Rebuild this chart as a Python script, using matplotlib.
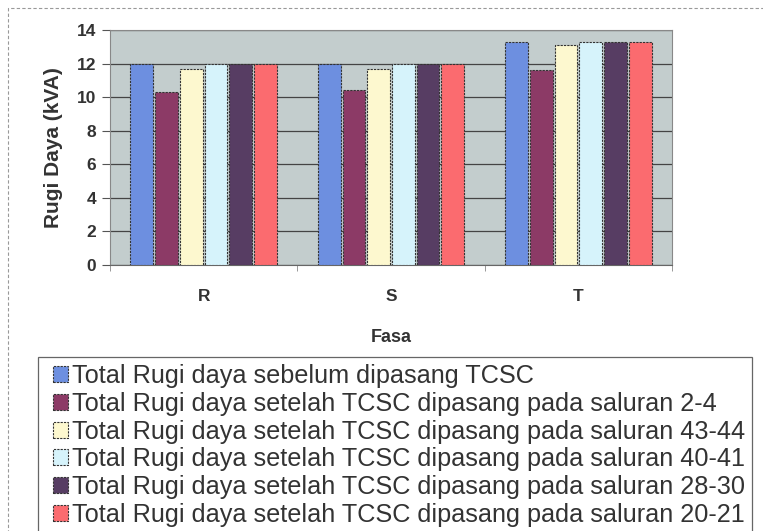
import matplotlib
matplotlib.use("Agg")
import matplotlib.pyplot as plt
import numpy as np
from matplotlib.patches import Rectangle

plt.rcParams['font.family'] = ['Liberation Sans', 'DejaVu Sans']

categories = ["R", "S", "T"]
series_labels = [
    "Total Rugi daya sebelum dipasang TCSC",
    "Total Rugi daya setelah TCSC dipasang pada saluran 2-4",
    "Total Rugi daya setelah TCSC dipasang pada saluran 43-44",
    "Total Rugi daya setelah TCSC dipasang pada saluran 40-41",
    "Total Rugi daya setelah TCSC dipasang pada saluran 28-30",
    "Total Rugi daya setelah TCSC dipasang pada saluran 20-21",
]
sebelum = [11.95, 11.95, 13.3]
sal_2_4 = [10.3, 10.45, 11.6]
sal_43_44 = [11.7, 11.7, 13.1]
sal_40_41 = [11.95, 11.95, 13.3]
sal_28_30 = [11.95, 11.95, 13.3]
sal_20_21 = [11.95, 11.95, 13.3]
series = [sebelum, sal_2_4, sal_43_44, sal_40_41, sal_28_30, sal_20_21]
colors = ["#6d8fe0", "#8c3a66", "#fdf8cf", "#d6f3fb", "#573d63", "#fb6b6f"]

W, H = 763, 531
fig = plt.figure(figsize=(W/100, H/100), dpi=100)
ax = fig.add_axes([110/W, 1-265/H, (672-110)/W, (265-30)/H])
ax.set_facecolor("#c3cdcd")

x = np.arange(len(categories))
n = len(series)
bw = 0.132
for i, (vals, c, lab) in enumerate(zip(series, colors, series_labels)):
    ax.bar(x + (i - (n-1)/2) * bw, vals, bw*0.92, color=c, edgecolor="#333333",
           linewidth=0.8, linestyle=(0, (2, 1)), label=lab, zorder=3)

ax.set_xlim(-0.5, 2.5)
ax.set_ylim(0, 14)
ax.set_yticks(range(0, 15, 2))
ax.yaxis.grid(True, color="#444444", linewidth=0.9, zorder=1)
ax.set_axisbelow(True)
ax.set_xticks(x)
ax.set_xticklabels(categories)
ax.set_xticks([-0.5, 0.5, 1.5, 2.5], minor=True)
ax.tick_params(axis='x', which='major', length=0, pad=17, labelsize=12.5)
ax.tick_params(axis='x', which='minor', length=4, color="#888888")
ax.tick_params(axis='y', length=6, labelsize=12.5, color="#555555", pad=4)
for lab in ax.get_yticklabels() + ax.get_xticklabels():
    lab.set_fontweight('bold')
    lab.set_color("#333333")
for s in ["top", "right", "left"]:
    ax.spines[s].set_color("#888888")
ax.spines["bottom"].set_color("#666666")
ax.set_ylabel("Rugi Daya (kVA)", fontsize=15, fontweight='bold', color="#333333", labelpad=10)
ax.set_xlabel("Fasa", fontsize=13, fontweight='bold', color="#333333", labelpad=18)

# legend frame drawn separately
fig.patches.append(Rectangle((38/W, -0.02), (752-38)/W, 1.02-357/H, transform=fig.transFigure,
                             fill=False, edgecolor="#666666", linewidth=0.9))
leg = fig.legend(loc="upper left", bbox_to_anchor=(53/W, 1-364/H), ncol=1,
                 fontsize=18.2, frameon=False,
                 handlelength=0.6, handleheight=0.6, handletextpad=0.16,
                 labelspacing=0.15, borderpad=0, borderaxespad=0)
for t in leg.get_texts():
    t.set_color("#333333")

fig.patches.append(Rectangle((8/W, -0.05), (780-8)/W, 1.05-8/H, transform=fig.transFigure,
                             fill=False, edgecolor="#999999", linestyle=(0, (3, 2)), linewidth=0.8))

fig.savefig("out.png", dpi=100)
